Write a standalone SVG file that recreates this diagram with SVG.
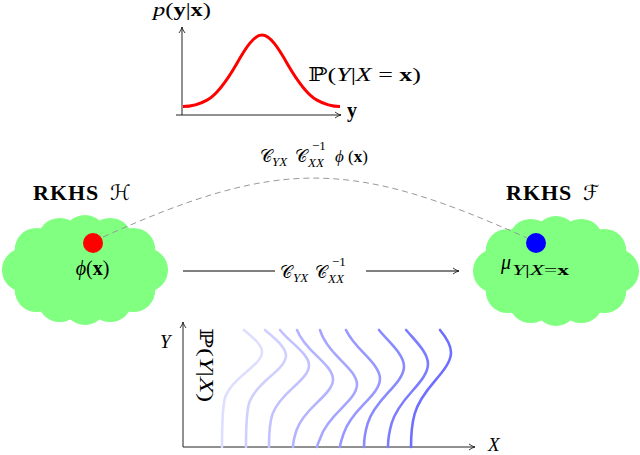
<svg xmlns="http://www.w3.org/2000/svg" xmlns:xlink="http://www.w3.org/1999/xlink" width="640" height="455" viewBox="0 0 640 455">
<style>
  text { font-family: "Liberation Serif", "DejaVu Serif", serif; fill: #000; }
  .it { font-style: italic; }
  .bf { font-weight: bold; }
  .sym { font-family: "DejaVu Serif", "DejaVu Sans", serif; }
  .axis { stroke: #222; stroke-width: 1; fill: none; marker-end: url(#arr); }
  .cond { fill: none; stroke-width: 2.6; stroke-linecap: round; }
  .cloud { fill: #80ff80; }
</style>
<defs>
  <marker id="arr" markerUnits="userSpaceOnUse" markerWidth="8" markerHeight="8" viewBox="0 0 8 8" refX="7" refY="4" orient="auto">
    <path d="M1,1 Q4,3.4 7,4 Q4,4.6 1,7" fill="none" stroke="#222" stroke-width="0.9"/>
  </marker>
  <g id="cloudshape">
    <ellipse cx="0" cy="0" rx="62" ry="34"/>
    <circle cx="61" cy="0" r="22"/>
    <circle cx="48.3" cy="20.1" r="22"/>
    <circle cx="25.2" cy="30.1" r="22"/>
    <circle cx="0" cy="33" r="22"/>
    <circle cx="-25.2" cy="30.1" r="22"/>
    <circle cx="-48.3" cy="20.1" r="22"/>
    <circle cx="-61" cy="0" r="22"/>
    <circle cx="-48.3" cy="-20.1" r="22"/>
    <circle cx="-25.2" cy="-30.1" r="22"/>
    <circle cx="0" cy="-33" r="22"/>
    <circle cx="25.2" cy="-30.1" r="22"/>
    <circle cx="48.3" cy="-20.1" r="22"/>
  </g>
</defs>

<!-- top plot: p(y|x) -->
<g id="plot-top">
  <path class="axis" d="M182,115 L182,27"/>
  <path class="axis" d="M176,115 L341,115"/>
  <path d="M183,106.5 C191,106.5 199,104.6 207,100.14 C217,94.55 227,80.48 237,63.13 C245.3,48.68 253.7,35 262,35 C270.3,35 278.7,48.68 287,63.13 C297,80.48 307,94.55 317,100.14 C325,104.6 332,106.5 340,106.5" fill="none" stroke="#ff0000" stroke-width="3"/>
  <text x="153" y="16" font-size="19" textLength="58" lengthAdjust="spacingAndGlyphs"><tspan class="it">p</tspan>(<tspan class="bf">y</tspan>|<tspan class="bf">x</tspan>)</text>
  <text x="347" y="117" font-size="20" class="bf">y</text>
  <text x="308" y="81" font-size="19" textLength="113" lengthAdjust="spacingAndGlyphs"><tspan class="sym">ℙ</tspan>(<tspan class="it">Y</tspan>|<tspan class="it">X</tspan> = <tspan class="bf">x</tspan>)</text>
</g>

<!-- left RKHS node -->
<g id="rkhs-h">
  <use xlink:href="#cloudshape" class="cloud" transform="translate(85,270)"/>
  <text x="33" y="200" font-size="22" class="bf" letter-spacing="1">RKHS</text>
  <text x="110" y="200" font-size="21" class="sym">ℋ</text>
  <circle cx="93" cy="243" r="10" fill="#ff0000"/>
  <text x="92.5" y="275" font-size="20" text-anchor="middle"><tspan class="it">ϕ</tspan>(<tspan class="bf">x</tspan>)</text>
</g>

<!-- right RKHS node -->
<g id="rkhs-f">
  <use xlink:href="#cloudshape" class="cloud" transform="translate(556,271)"/>
  <text x="506" y="200" font-size="22" class="bf" letter-spacing="1">RKHS</text>
  <text x="583" y="200" font-size="21" class="sym">ℱ</text>
  <circle cx="536" cy="243" r="10" fill="#0000ff"/>
  <text x="501" y="269" font-size="20" class="it">μ</text>
  <text x="512" y="275" font-size="14" textLength="57" lengthAdjust="spacingAndGlyphs"><tspan class="it">Y</tspan>|<tspan class="it">X</tspan>=<tspan class="bf">x</tspan></text>
</g>

<!-- connectors -->
<g id="connectors">
  <path d="M103,237 C279,157.8 351,158.8 527,238" fill="none" stroke="#999" stroke-width="1" stroke-dasharray="6 4"/>
  <text font-size="17">
    <tspan x="260" y="162" class="sym">𝒞</tspan>
    <tspan x="272" y="166" font-size="13" class="it">YX</tspan>
    <tspan x="295" y="162" class="sym">𝒞</tspan>
    <tspan x="312" y="150" font-size="13">−1</tspan>
    <tspan x="308" y="167" font-size="13" class="it">XX</tspan>
    <tspan x="335" y="162" class="it">ϕ</tspan>
    <tspan x="348" y="162">(<tspan class="bf">x</tspan>)</tspan>
  </text>
  <path d="M183,271 L275,271" stroke="#000" stroke-width="1" fill="none"/>
  <path d="M366,271 L459,271" stroke="#000" stroke-width="1" fill="none" marker-end="url(#arr)"/>
  <text font-size="17">
    <tspan x="280" y="278" class="sym">𝒞</tspan>
    <tspan x="293" y="282" font-size="13" class="it">YX</tspan>
    <tspan x="315" y="278" class="sym">𝒞</tspan>
    <tspan x="332" y="266" font-size="13">−1</tspan>
    <tspan x="328" y="283" font-size="13" class="it">XX</tspan>
  </text>
</g>

<!-- bottom plot: P(Y|X) -->
<g id="plot-bottom">
  <path class="axis" d="M183,447 L183,322"/>
  <path class="axis" d="M183,447 L475,447"/>
  <text x="160" y="348" font-size="19" class="it">Y</text>
  <text x="488" y="451" font-size="19" class="it">X</text>
  <text transform="translate(200,328) rotate(90)" font-size="18" textLength="74" lengthAdjust="spacingAndGlyphs"><tspan class="sym">ℙ</tspan>(<tspan class="it">Y</tspan>|<tspan class="it">X</tspan>)</text>
  <path class="cond" stroke="#dedeff" d="M243.8,330 C244.6,330.7 245.5,331.3 246.3,332 C254.3,338.7 262,345.3 262,352 C262,358.7 254.3,365.3 246.3,372 C236.6,380 228.7,388 225.6,396 C222,405.1 222,430 222,447"/>
  <path class="cond" stroke="#d0d0ff" d="M265,330 C266.7,331.5 268.5,333.1 270.3,334.6 C278.3,341.6 286,348.6 286,355.6 C286,362.6 278.3,369.6 270.3,376.6 C260.6,385 252.7,393.4 249.6,401.8 C246,411.3 246,430 246,447"/>
  <path class="cond" stroke="#c2c2ff" d="M280,330 C283.5,334.5 288.3,338.9 293.3,343.4 C301.3,350.7 309,358.1 309,365.4 C309,372.7 301.3,380.1 293.3,387.4 C283.6,396.2 275.7,405 272.6,413.8 C269,423.8 269,437 269,447"/>
  <path class="cond" stroke="#b4b4ff" d="M297,330 C300.3,338.8 308,347.6 317.3,356.4 C325.3,364.1 333,371.7 333,379.4 C333,387.1 325.3,394.7 317.3,402.4 C307.6,411.6 299.7,420.8 296.6,430 C294.6,436 293,443 293,447"/>
  <path class="cond" stroke="#a6a6ff" d="M320,330 C322.9,340.2 331,350.4 341.3,360.6 C349.3,368.6 357,376.6 357,384.6 C357,392.6 349.3,400.6 341.3,408.6 C331.6,418.2 323.7,427.8 320.6,437.4 C319.6,440.6 317.2,444 317,447"/>
  <path class="cond" stroke="#9898ff" d="M346,330 C349.7,337.9 356.6,345.8 364.3,353.7 C372.3,362 380,370.4 380,378.7 C380,387 372.3,395.4 364.3,403.7 C354.6,413.7 346.7,423.7 343.6,433.7 C342.2,438 340.2,443 340,447"/>
  <path class="cond" stroke="#8a8aff" d="M379,330 C381.8,333.5 385,336.9 388.3,340.4 C396.3,349.1 404,357.7 404,366.4 C404,375.1 396.3,383.7 388.3,392.4 C378.6,402.8 370.7,413.2 367.6,423.6 C365.8,429.6 364,440 364,447"/>
  <path class="cond" stroke="#7c7cff" d="M406.1,330 C408.1,332.3 410.2,334.7 412.3,337 C420.3,346 428,355 428,364 C428,373 420.3,382 412.3,391 C402.6,401.8 394.7,412.6 391.6,423.4 C389.9,429.4 388,440 388,447"/>
  <path class="cond" stroke="#6e6eff" d="M440,330 C446.2,337.5 451,344.9 451,352.4 C451,361.7 443.3,371.1 435.3,380.4 C425.6,391.6 417.7,402.8 414.6,414 C412.4,422 411,435 411,447"/>
</g>
</svg>
